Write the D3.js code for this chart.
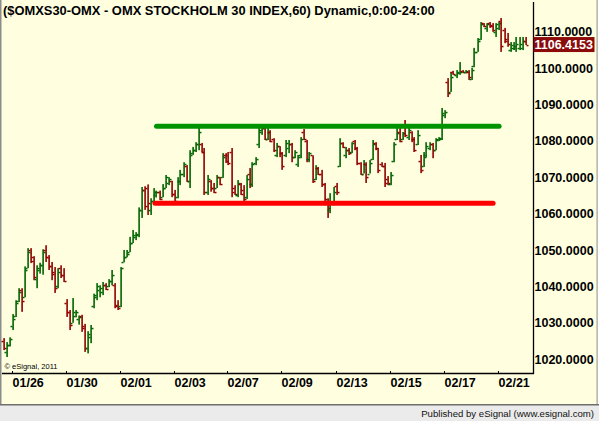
<!DOCTYPE html>
<html>
<head>
<meta charset="utf-8">
<script src="https://cdn.jsdelivr.net/npm/d3@7"></script>
<style>
  html, body { margin: 0; padding: 0; background: #ffffff; }
  svg { display: block; }
  text { font-family: "Liberation Sans", Arial, sans-serif; }
</style>
</head>
<body>
<svg id="chart" width="599" height="421"></svg>
<script>
/********************************************************
 ********************* Data *****************************
 ********************************************************/
var chartTitle = "($OMXS30-OMX - OMX STOCKHOLM 30 INDEX,60) Dynamic,0:00-24:00";

// 60 minute bars, oldest first
var opens = [1025, 1022, 1024, 1029, 1032, 1036, 1039, 1037, 1045, 1050,
  1048, 1042, 1044.5, 1046, 1050, 1048, 1045.5, 1044, 1040, 1045,
  1043, 1035.5, 1033, 1030, 1032, 1031, 1032, 1029, 1023, 1026,
  1034.5, 1037, 1039, 1038.5, 1040.5, 1040, 1041.5, 1040.5, 1035, 1034.5,
  1046.7, 1048, 1049.4, 1052, 1053.5, 1054, 1061, 1066.5, 1067, 1061,
  1063.5, 1065, 1066, 1064.5, 1067, 1068.5, 1069, 1065.5, 1064.5, 1069,
  1071, 1073, 1069, 1076.5, 1077.5, 1079, 1079, 1077, 1066, 1069,
  1067, 1067, 1070, 1070, 1076, 1076, 1077, 1067, 1065, 1068,
  1066.5, 1064.5, 1071, 1068, 1074, 1079, 1082.5, 1083.5, 1080.5, 1082.5,
  1080.5, 1076, 1078.5, 1076.5, 1076, 1078, 1079, 1075.5, 1073.5, 1076,
  1082.5, 1080, 1075, 1076, 1069.5, 1072.5, 1071, 1068, 1064, 1061,
  1063, 1067.5, 1073, 1079.5, 1076, 1077.5, 1077, 1080, 1078, 1074,
  1071, 1073.5, 1071, 1075, 1079.5, 1078, 1073.5, 1073, 1069.5, 1068,
  1074.5, 1080.5, 1082.5, 1080.5, 1084, 1081, 1082.5, 1080.5, 1079, 1074.5,
  1073, 1076, 1078, 1079, 1077.5, 1080.3, 1080.5, 1087, 1096, 1093.5,
  1098.8, 1098, 1098.5, 1099.2, 1098.8, 1099, 1097, 1100.5, 1104.5, 1108,
  1112.2, 1111, 1112.2, 1111.8, 1110, 1111, 1113, 1110.5, 1108, 1105,
  1105.5, 1105.5, 1105.5, 1105.5, 1107.5];

var highs = [1025.8, 1024.7, 1026, 1032.4, 1036.2, 1039.5, 1039.5, 1045.5, 1050.5, 1050.5,
  1048.3, 1045.8, 1046.5, 1050.2, 1051.3, 1048.6, 1046.7, 1045.3, 1045, 1045.8,
  1045, 1036.5, 1033.5, 1036.8, 1033.5, 1032, 1032.2, 1029.7, 1027.7, 1029.4,
  1038, 1040.9, 1040.3, 1041.2, 1040.9, 1042, 1044.5, 1040.9, 1036.2, 1045.3,
  1050, 1050, 1053.6, 1055.5, 1054.9, 1061.7, 1067.3, 1067.5, 1068, 1064.2,
  1067, 1066.3, 1066.3, 1068.1, 1070.6, 1070, 1069, 1066.5, 1070, 1072,
  1074.1, 1073.3, 1077.4, 1078.3, 1079.6, 1084, 1079.4, 1078, 1070.6, 1069.2,
  1068.4, 1070.6, 1070, 1076.6, 1076.6, 1076.9, 1078, 1067.8, 1069.2, 1068.4,
  1067.8, 1070.6, 1072.5, 1074.1, 1075.5, 1084.5, 1084.2, 1083.8, 1083.5, 1082.9,
  1080.7, 1079.4, 1078.5, 1076.9, 1080.2, 1080.2, 1079.4, 1077.4, 1076.1, 1081,
  1083.2, 1080.2, 1076.9, 1076, 1073.3, 1072.8, 1072, 1068.4, 1064.2, 1065.6,
  1067.3, 1068.4, 1080.7, 1079.6, 1078.3, 1078, 1079.6, 1080.2, 1078.3, 1074.1,
  1074.7, 1074.1, 1074.7, 1080.2, 1079.6, 1078, 1074.1, 1073.9, 1070.3, 1071.4,
  1079.6, 1083.5, 1083.8, 1082.4, 1085.7, 1083.8, 1082.6, 1081, 1082.9, 1076.1,
  1076.9, 1079.6, 1079.6, 1079.4, 1080.7, 1081, 1089, 1088.4, 1097.2, 1098.9,
  1099.2, 1099.4, 1101.6, 1099.4, 1099.4, 1099.4, 1100, 1105.5, 1108.2, 1112.6,
  1112.3, 1112.3, 1112.6, 1112.3, 1112.3, 1112.6, 1113.7, 1111, 1109.6, 1107.1,
  1107.1, 1108.5, 1108.5, 1108.5, 1108.5];

var lows = [1022.5, 1020.6, 1023.5, 1028, 1031.6, 1035.7, 1033, 1037, 1045, 1046.4,
  1041.7, 1039.5, 1043.5, 1043.2, 1046.7, 1044.5, 1041.7, 1038.2, 1039.5, 1042.3,
  1041.2, 1031.6, 1028, 1030, 1031.5, 1029.5, 1027.5, 1022, 1021.6, 1024.4,
  1034, 1036.2, 1037, 1037.6, 1039, 1039.8, 1040.3, 1034, 1033.5, 1034.3,
  1046.6, 1048, 1049.4, 1051.9, 1052.7, 1053.5, 1058.8, 1061, 1059.6, 1059.6,
  1062.9, 1064.4, 1063.7, 1064.5, 1067, 1067.8, 1064.5, 1062.9, 1064.2, 1067.8,
  1070, 1068.7, 1067, 1076.1, 1076.9, 1077.4, 1076.9, 1065.1, 1065.1, 1066,
  1065.6, 1067, 1067.8, 1069.8, 1073.9, 1073.3, 1064.5, 1065.1, 1064.5, 1065.1,
  1062.9, 1064, 1067, 1067.3, 1073.3, 1078, 1081.6, 1080.2, 1080.2, 1079.6,
  1076.9, 1075.5, 1075.5, 1072, 1075.5, 1076.6, 1074.1, 1075.2, 1072.8, 1075.2,
  1080.2, 1074.1, 1074.1, 1068.4, 1069.2, 1070.6, 1067.3, 1062.3, 1058.8, 1060.1,
  1062.3, 1065.1, 1072.8, 1078, 1075.2, 1076.1, 1076.6, 1077.4, 1073.3, 1070.6,
  1071, 1068.4, 1071, 1074.7, 1077.4, 1071.1, 1072.8, 1067.3, 1067.8, 1067.8,
  1074.1, 1080.2, 1079.6, 1080.2, 1081, 1080.2, 1079.6, 1076.9, 1078.8, 1071.1,
  1072.8, 1075.5, 1077.4, 1075.2, 1077.4, 1079.9, 1080.2, 1086.2, 1092, 1093.4,
  1098.1, 1097.2, 1098.1, 1098.6, 1098.5, 1096.7, 1096.7, 1100.2, 1104.4, 1107.7,
  1111.2, 1109.9, 1111, 1109.9, 1108.5, 1110.4, 1104.4, 1106.8, 1105.8, 1104.4,
  1104.9, 1104.4, 1104.9, 1104.9, 1106.3];

var closes = [1023, 1024, 1025.5, 1031, 1035.5, 1038.5, 1036, 1044.5, 1049.5, 1047,
  1042.5, 1045, 1046, 1049.5, 1048, 1045.5, 1043.5, 1039.5, 1044, 1043,
  1041.5, 1033, 1029.5, 1033, 1033, 1031.5, 1028.5, 1023, 1027, 1028.5,
  1037.5, 1040, 1039.5, 1040.5, 1039.3, 1041.5, 1043, 1034.5, 1034, 1045,
  1048, 1049, 1052, 1054, 1054.5, 1061, 1066.5, 1062, 1063, 1063.5,
  1066, 1066, 1064, 1067, 1070, 1069.5, 1065.5, 1063.5, 1069, 1071,
  1073.5, 1069, 1076, 1077.5, 1079, 1082.5, 1077, 1066, 1069.5, 1067,
  1066, 1070, 1068, 1075.5, 1074.5, 1074, 1066, 1065.5, 1068.5, 1065.5,
  1064, 1069.5, 1068, 1073.5, 1075, 1083, 1083.5, 1080.5, 1082.5, 1080,
  1077.5, 1078.5, 1076.5, 1073, 1079.5, 1079, 1075.5, 1077, 1075.5, 1080.5,
  1080.5, 1075, 1076.5, 1069, 1072.5, 1071, 1068, 1063.5, 1061.5, 1063,
  1066, 1066, 1079.5, 1078.3, 1077.5, 1076.5, 1079.5, 1078, 1074, 1071,
  1073.5, 1070, 1074, 1079, 1078, 1072, 1073, 1068.5, 1068.3, 1070.5,
  1079, 1082, 1080, 1082, 1081.5, 1083, 1080.5, 1077.5, 1081.5, 1072,
  1075.5, 1078.5, 1079, 1077.5, 1080.5, 1080.8, 1087.5, 1088, 1093, 1097.5,
  1098.2, 1099, 1099, 1098.8, 1099.2, 1097.5, 1099.5, 1104.5, 1107.5, 1112,
  1111.5, 1112, 1111.5, 1110.3, 1112, 1112.3, 1106, 1107.5, 1106.5, 1106.3,
  1106, 1106.5, 1106.5, 1107.5, 1106.4153];

var dateLabels = ["01/26", "01/30", "02/01", "02/03", "02/07", "02/09", "02/13", "02/15", "02/17", "02/21"];
var dateBars = [3, 21, 39, 57, 75, 93, 111, 129, 147, 165];   // bar index where each label sits

var priceTicks = [1020, 1030, 1040, 1050, 1060, 1070, 1080, 1090, 1100, 1110];
var lastPrice = closes[closes.length - 1];

// hand drawn support / resistance lines
var lineLevels = [1084, 1062.8];
var lineStarts = [51, 50.5];
var lineEnds = [165.2, 163.2];
var lineColors = ["#009300", "#ff0000"];

/********************************************************
 ********************* Layout ***************************
 ********************************************************/
var W = 599, H = 421;
var plotRight = 533, axisY = 373, panelBottom = 405;

var svg = d3.select("#chart");

var xScale = d3.scaleLinear().domain([0, closes.length - 1]).range([3.5, 3.5 + 3 * (closes.length - 1)]);
var yScale = d3.scaleLinear().domain([1020, 1110]).range([359.2, 31.5]);

var upColor = "#006400", downColor = "#900000";

// background panel
svg.append("rect").attr("x", 0).attr("y", 0).attr("width", W).attr("height", H).attr("fill", "#ffffff");
svg.append("rect").attr("x", 0).attr("y", 0).attr("width", 598).attr("height", panelBottom).attr("fill", "#ffffe0");
svg.append("rect").attr("x", 0).attr("y", 0).attr("width", 1.5).attr("height", panelBottom).attr("fill", "#8c8c8c");
svg.append("rect").attr("x", 596.5).attr("y", 0).attr("width", 1.2).attr("height", panelBottom).attr("fill", "#a0a0a0");

// status bar
svg.append("rect").attr("x", 0).attr("y", panelBottom).attr("width", W).attr("height", H - panelBottom).attr("fill", "#ebebeb");
svg.append("rect").attr("x", 0).attr("y", panelBottom - 1).attr("width", W).attr("height", 1.5).attr("fill", "#6e6e6e");
svg.append("text")
  .attr("x", 594).attr("y", 416.5)
  .attr("text-anchor", "end")
  .style("font-size", "9.6px")
  .attr("fill", "#111")
  .text("Published by eSignal (www.esignal.com)");

/********************************************************
 ********************* Axes *****************************
 ********************************************************/
svg.append("line")
  .attr("x1", plotRight + 0.5).attr("x2", plotRight + 0.5)
  .attr("y1", 2).attr("y2", axisY + 1)
  .attr("stroke", "#000").attr("stroke-width", 1.3);
svg.append("line")
  .attr("x1", 2).attr("x2", plotRight + 1)
  .attr("y1", axisY + 0.5).attr("y2", axisY + 0.5)
  .attr("stroke", "#000").attr("stroke-width", 1.3);

svg.selectAll(".ytick")
  .data(priceTicks)
  .enter()
  .append("text")
  .attr("class", "ytick")
  .attr("x", 534.5)
  .attr("y", function(d) { return yScale(d) + 4.6; })
  .style("font-size", "12.5px")
  .style("font-weight", "bold")
  .attr("fill", "#000")
  .text(function(d) { return d3.format(".4f")(d); });

var dateG = svg.selectAll(".xtick")
  .data(dateBars)
  .enter()
  .append("g")
  .attr("class", "xtick");
dateG.append("line")
  .attr("x1", function(d) { return Math.round(xScale(d)) - 0.5; })
  .attr("x2", function(d) { return Math.round(xScale(d)) - 0.5; })
  .attr("y1", axisY - 2).attr("y2", axisY)
  .attr("stroke", "#000").attr("stroke-width", 1);
dateG.append("text")
  .attr("x", function(d) { return Math.round(xScale(d)) - 0.5; })
  .attr("y", 387.3)
  .style("font-size", "12.5px")
  .style("font-weight", "bold")
  .attr("fill", "#000")
  .text(function(d, i) { return dateLabels[i]; });

/********************************************************
 ********************* Bars *****************************
 ********************************************************/
var bars = svg.append("g");
closes.forEach(function(c, i) {
  var px = Math.round(xScale(i)) - 0.5;
  var col = c >= opens[i] ? upColor : downColor;
  var yo = Math.round(yScale(opens[i])), yc = Math.round(yScale(c));
  bars.append("rect")
    .attr("x", px - 0.2).attr("width", 1.6)
    .attr("y", yScale(highs[i]))
    .attr("height", Math.max(1, yScale(lows[i]) - yScale(highs[i])))
    .attr("fill", col);
  bars.append("rect")
    .attr("x", px - 2).attr("width", 2)
    .attr("y", yo - 0.2).attr("height", 1.5)
    .attr("fill", col);
  bars.append("rect")
    .attr("x", px + 1).attr("width", 2)
    .attr("y", yc - 0.2).attr("height", 1.5)
    .attr("fill", col);
});

/********************************************************
 ********************* Lines / labels *******************
 ********************************************************/
lineLevels.forEach(function(lv, i) {
  svg.append("line")
    .attr("x1", xScale(lineStarts[i])).attr("x2", xScale(lineEnds[i]))
    .attr("y1", yScale(lv)).attr("y2", yScale(lv))
    .attr("stroke", lineColors[i])
    .attr("stroke-width", 5)
    .attr("stroke-linecap", "round");
});

// last price box on the scale
svg.append("rect")
  .attr("x", plotRight + 0.5).attr("y", yScale(lastPrice) - 7.5)
  .attr("width", 61).attr("height", 15)
  .attr("fill", "#8b0a0a");
svg.append("text")
  .attr("x", 534.5).attr("y", yScale(lastPrice) + 4.6)
  .style("font-size", "12.5px")
  .style("font-weight", "bold")
  .attr("fill", "#ffffff")
  .text(d3.format(".4f")(lastPrice));

svg.append("text")
  .attr("x", 3).attr("y", 15.3)
  .style("font-size", "12.9px")
  .style("font-weight", "bold")
  .attr("fill", "#000")
  .text(chartTitle);

svg.append("text")
  .attr("x", 4.5).attr("y", 369)
  .style("font-size", "7.5px")
  .attr("fill", "#000")
  .text("\u00a9 eSignal, 2011");
</script>
</body>
</html>
